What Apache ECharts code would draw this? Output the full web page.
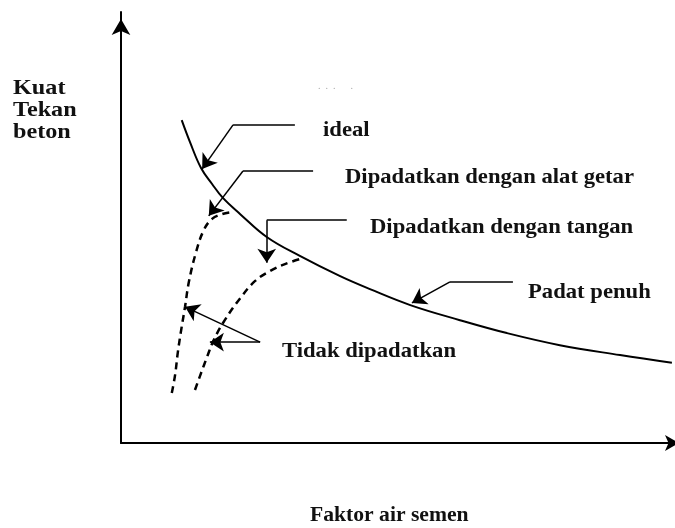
<!DOCTYPE html>
<html>
<head>
<meta charset="utf-8">
<script src="https://cdn.jsdelivr.net/npm/echarts@6/dist/echarts.min.js"></script>
<style>html,body{margin:0;padding:0;background:#fff}#c{width:675px;height:528px}</style>
</head>
<body>
<div id="c"></div>
<script>
// Curves (x: faktor air semen, y: kuat tekan, arbitrary units 0-100)
var idealX = [11.0, 12.5, 14.5, 16.5, 18.5, 21.6, 26.4, 32.4, 39.7, 45.1, 52.4, 61.4, 69.9, 79.5, 90.4, 99.8];
var idealY = [74.9, 69.8, 63.8, 60.1, 56.8, 53.1, 47.8, 43.4, 38.7, 35.7, 32.0, 28.5, 25.5, 22.7, 20.4, 18.6];
var getarX = [9.2, 9.8, 10.3, 10.9, 11.6, 12.3, 13.6, 15.0, 16.5, 18.3, 20.3];
var getarY = [11.6, 15.8, 21.1, 26.2, 31.6, 37.4, 44.3, 49.4, 52.0, 53.1, 53.6];
var tanganX = [13.4, 14.5, 15.6, 16.8, 18.8, 21.6, 24.3, 27.0, 29.7, 33.0];
var tanganY = [12.3, 16.2, 20.0, 23.9, 28.5, 33.6, 37.6, 39.9, 41.5, 42.9];

// Annotation leader lines (data coords): [from, to]
var leaders = [
  [[31.5, 73.8], [20.3, 73.8]],
  [[34.8, 63.1], [22.1, 63.1]],
  [[40.9, 51.7], [26.4, 51.7]],
  [[71.0, 37.4], [59.6, 37.4]]
];
var pointers = [
  [[20.3, 73.8], [14.7, 63.6]],
  [[22.1, 63.1], [15.9, 52.7]],
  [[26.4, 51.7], [26.4, 41.8]],
  [[59.6, 37.4], [52.7, 32.5]],
  [[25.2, 23.4], [11.6, 31.6]],
  [[25.2, 23.4], [16.1, 23.4]]
];

var labels = ['ideal', 'Dipadatkan dengan alat getar', 'Dipadatkan dengan tangan', 'Padat penuh', 'Tidak dipadatkan'];
var yTitle = ['Kuat', 'Tekan', 'beton'];
var xTitle = 'Faktor air semen';

function pairs(xs, ys) { return xs.map(function (x, i) { return [x, ys[i]]; }); }

var FONT = '"Liberation Serif", "DejaVu Serif", serif';
var labelPos = [[323, 130], [345, 177], [370, 227], [528, 292], [282, 351]];

var graphics = [];
labels.forEach(function (t, i) {
  graphics.push({ type: 'text', x: labelPos[i][0], y: labelPos[i][1], scaleX: 1.03,
    style: { text: t, font: 'bold 22px ' + FONT, fill: '#111', textVerticalAlign: 'middle' } });
});
yTitle.forEach(function (t, i) {
  graphics.push({ type: 'text', x: 13, y: 88 + i * 22, scaleX: 1.1,
    style: { text: t, font: 'bold 22px ' + FONT, fill: '#111', textVerticalAlign: 'middle' } });
});
graphics.push({ type: 'text', x: 310, y: 516, scaleX: 1.03,
  style: { text: xTitle, font: 'bold 21px ' + FONT, fill: '#111', textVerticalAlign: 'middle' } });
graphics.push({ type: 'text', x: 318, y: 86,
  style: { text: '.  .  .      .', font: '10px ' + FONT, fill: '#aaa', textVerticalAlign: 'middle' } });

var chart = echarts.init(document.getElementById('c'), null, { renderer: 'canvas' });
chart.setOption({
  animation: false,
  backgroundColor: '#fff',
  grid: { left: 121, right: 2, top: 12, bottom: 85, containLabel: false },
  xAxis: {
    type: 'value', min: 0, max: 100,
    axisLine: { show: true, onZero: false, symbol: ['none', 'arrow'], symbolSize: [12, 14], symbolOffset: [0, 6],
      lineStyle: { color: '#000', width: 2 } },
    axisTick: { show: false }, axisLabel: { show: false }, splitLine: { show: false }
  },
  yAxis: {
    type: 'value', min: 0, max: 100,
    axisLine: { show: true, onZero: false, symbol: ['none', 'arrow'], symbolSize: [14, 16], symbolOffset: [0, -7],
      lineStyle: { color: '#000', width: 2 } },
    axisTick: { show: false }, axisLabel: { show: false }, splitLine: { show: false }
  },
  graphic: graphics,
  series: [
    { type: 'line', data: pairs(idealX, idealY), smooth: 0.4, showSymbol: false,
      lineStyle: { color: '#000', width: 2 } },
    { type: 'line', data: pairs(getarX, getarY), smooth: 0.4, showSymbol: false,
      lineStyle: { color: '#000', width: 2.5, type: [7, 5] } },
    { type: 'line', data: pairs(tanganX, tanganY), smooth: 0.4, showSymbol: false,
      lineStyle: { color: '#000', width: 2.5, type: [7, 5] } },
    { type: 'lines', coordinateSystem: 'cartesian2d', symbol: 'none',
      data: leaders.map(function (c) { return { coords: c }; }),
      lineStyle: { color: '#000', width: 1.5, opacity: 1 } },
    { type: 'lines', coordinateSystem: 'cartesian2d', symbol: ['none', 'arrow'], symbolSize: [11, 14],
      data: pointers.map(function (c) { return { coords: c }; }),
      lineStyle: { color: '#000', width: 1.5, opacity: 1 } }
  ]
});
</script>
</body>
</html>
